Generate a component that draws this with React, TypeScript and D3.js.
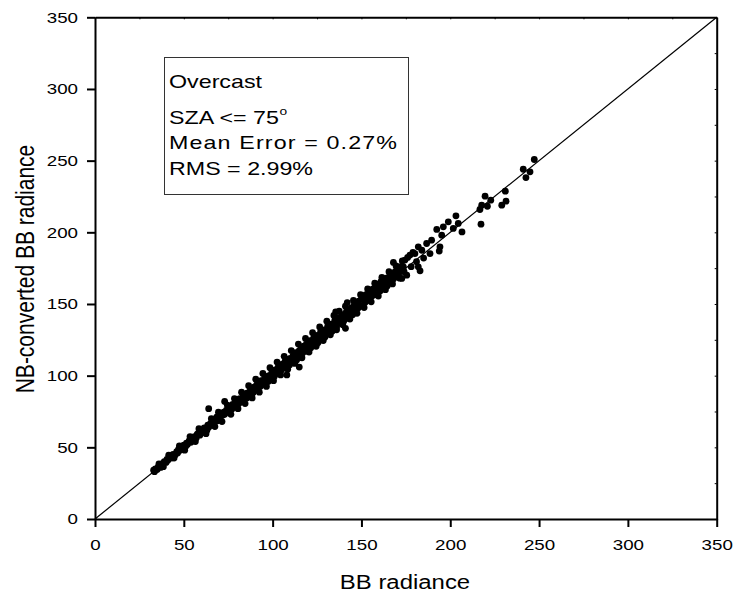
import React, { useRef, useEffect } from 'react';
import * as d3 from 'd3';

// BB radiance (x) vs NB-converted BB radiance (y)
const bbRadiance = [
  33, 33.5, 34, 35, 35.5, 36, 37, 37.5, 38, 39, 40, 40.5, 41, 42, 43, 43.5, 44, 45, 46, 46.5,
  47, 48, 48.5, 49, 50, 51, 51.5, 52, 53, 54, 54.5, 55, 56, 57, 57.5, 58, 59, 59.5, 60, 61,
  61.5, 62, 63, 63.5, 64, 64, 65, 66, 66.5, 67, 68, 68.5, 69, 70, 70.5, 71, 72, 72.5, 73, 73,
  74, 75, 75.5, 76, 77, 77.5, 78, 79, 79.5, 80, 81, 81.5, 82, 83, 83.5, 84, 85, 85.5, 86, 87,
  87.5, 88, 89, 89.5, 90, 91, 91.5, 92, 93, 93.5, 94, 95, 95.5, 96, 97, 97.5, 98, 99, 99.5, 100,
  101, 101.5, 102, 103, 103.5, 104, 105, 105.5, 106, 107, 107.5, 108, 108, 109, 109.5, 110, 111, 111.5, 112, 113,
  113.5, 114, 115, 115, 115.5, 116, 117, 117.5, 118, 119, 119.5, 120, 121, 121.5, 122, 123, 123.5, 124, 125, 125.5,
  126, 127, 127.5, 128, 129, 129.5, 130, 131, 131.5, 132, 133, 133.5, 134, 135, 135.5, 136, 136.5, 137, 138, 138.5,
  139, 140, 140.5, 141, 141.5, 142, 142.5, 143, 144, 144.5, 145, 146, 146.5, 147, 148, 148.5, 149, 150, 150.5, 151,
  152, 152.5, 153, 154, 154.5, 155, 156, 156.5, 157, 158, 158.5, 159, 160, 160.5, 161, 162, 162.5, 163, 164, 164.5,
  165, 166, 166.5, 167, 168, 168, 169, 170, 170.5, 171, 172, 172.7,
  36, 38.5, 41.5, 44.5, 47.5, 50.5, 53.5, 56.5, 58.5, 62.5, 65.5, 67.5, 69.5, 71.5, 74.5, 76.5, 78.5, 80.5, 82.5, 84.5,
  86.5, 88.5, 90.5, 92.5, 94.5, 96.5, 98.5, 100.5, 102.5, 104.5, 106.5, 108.5, 110.5, 112.5, 114.5, 116.5, 118.5, 120.5, 122.5, 124.5,
  126.5, 128.5, 130.5, 132.5, 134.5, 136, 137.5, 139.5, 141, 143.5, 145.5, 147.5, 149.5, 151.5, 153.5, 155.5, 157.5, 159.5, 161.5, 163.5,
  165.5, 167.5, 169.5, 171.5, 173, 174, 176, 178, 179, 181, 184, 185,
  173.6, 174.5, 175.5, 177.3, 180.1, 182, 182, 183, 186.7, 188.6, 189.5, 192.4, 193.8, 194.2, 195.2, 196.1, 198.9, 201.7, 203.2, 204.5,
  206.6, 216.7, 217.3, 217.7, 219.6, 220.9, 222.8, 229, 231, 231.4, 241.1, 242.6, 244.9, 247.3,
];

const nbConverted = [
  34, 33, 35, 34.5, 36, 37, 36, 38.5, 38, 40, 39.5, 41.5, 41, 43, 42.5, 44.5, 45, 44.5, 47, 46,
  48.5, 48, 50, 49, 51.5, 50.5, 53, 52, 54.5, 53.5, 56, 55.5, 57.5, 56.5, 59, 59.5, 58.5, 61.5, 61, 60.5,
  63.5, 63, 62, 65.5, 64, 77, 66.5, 65.5, 68.5, 67, 69.5, 71, 68.5, 71.5, 70, 73, 72.5, 74.5, 73, 82,
  76, 74.5, 77.5, 78, 76.5, 80, 79, 81.5, 78.5, 82, 80.5, 84, 83, 82, 86, 85, 87.5, 84.5, 88, 86.5,
  90, 89.5, 88, 92, 91, 93.5, 90, 94, 92.5, 96.5, 95, 94, 98, 97.5, 99.5, 96, 100, 98.5, 102, 101,
  99.5, 104, 103, 105.5, 101.5, 106, 104, 108, 107.5, 110, 105.5, 100.5, 108.5, 111.5, 107.5, 112, 109.5, 114, 113, 116,
  111, 115, 106, 117.5, 113, 118.5, 116, 120.5, 119, 122, 117, 121.5, 124.5, 119.5, 123, 126, 121.5, 125.5, 128, 123,
  127, 130.5, 125, 129, 132, 127, 131.5, 134.5, 129.5, 133, 136, 131, 135.5, 138.5, 144.5, 134, 137.5, 140.5, 136.5, 139.5,
  142.5, 138, 141.5, 133, 144.5, 151, 140, 146, 143.5, 147.5, 142.5, 149.5, 145, 151, 147, 152, 149, 153.5, 148.5, 155,
  151, 156.5, 153.5, 157.5, 152.5, 159, 155.5, 160.5, 157, 162, 156.5, 161, 164, 159, 165.5, 161, 166, 163.5, 168, 162.5,
  167, 170, 165, 171, 179, 167.5, 172.5, 169, 174, 171.5, 176, 167.8,
  38.5, 36.5, 44.5, 42.5, 51, 48, 57.5, 54, 63, 59.5, 70, 64.5, 74.5, 68, 79.5, 73, 84, 77, 88.5, 80.5,
  93, 84.5, 97.5, 88.5, 101.5, 92.5, 105.5, 96.5, 109.5, 100.5, 113.5, 104.5, 117.5, 108.5, 122, 112.5, 126, 116.5, 130, 120.5,
  134, 124.5, 138, 128.5, 142, 132, 145, 135.5, 148.5, 139.5, 152.5, 143.5, 156.5, 147.5, 160.5, 151.5, 164.5, 155.5, 168.5, 160,
  172.5, 164, 176.5, 168, 180, 172.5, 182.5, 176, 186, 179.5, 187.5, 182,
  175.9, 180.6, 170.1, 184.1, 185.2, 189.9, 175.9, 173.1, 192.2, 185.2, 194.5, 202, 186.9, 189.9, 198, 203.8, 207.3, 202.7, 211.5, 206.2,
  200.3, 215.9, 205.7, 218.9, 225.2, 218.2, 222.4, 218.9, 228.7, 221.7, 244, 238.2, 242.2, 250.8,
];

const majorTicks = [0, 50, 100, 150, 200, 250, 300, 350];
const minorTicks = [25, 75, 125, 175, 225, 275, 325];
const allTicks = [0, 25, 50, 75, 100, 125, 150, 175, 200, 225, 250, 275, 300, 325, 350];

const infoLines = ['Overcast', 'SZA <= 75', 'Mean Error = 0.27%', 'RMS = 2.99%'];

const W = 735;
const H = 598;
const FONT = '"Liberation Sans", Arial, Helvetica, sans-serif';
const SX = 1.25; // the picture's text is wider than it is tall

const App = () => {
  const ref = useRef(null);

  useEffect(() => {
    const svg = d3.select(ref.current);
    svg.selectAll('*').remove();

    const x = d3.scaleLinear().domain([0, 350]).range([95, 716.7]);
    const y = d3.scaleLinear().domain([0, 350]).range([519, 17.3]);

    const points = bbRadiance.map((v, i) => ({ bb: v, nb: nbConverted[i] }));

    // top / right frame with small inward ticks
    svg.append('g')
      .attr('transform', `translate(0,${y(350)})`)
      .call(d3.axisTop(x).tickValues(allTicks).tickSize(-2).tickSizeOuter(0).tickFormat(() => ''))
      .call(g => g.select('.domain').attr('stroke-width', 2));
    svg.append('g')
      .attr('transform', `translate(${x(350)},0)`)
      .call(d3.axisRight(y).tickValues(allTicks).tickSize(-2).tickSizeOuter(0).tickFormat(() => ''))
      .call(g => g.select('.domain').attr('stroke-width', 2));

    // diagonal 1:1 line
    svg.append('line')
      .attr('x1', x(0)).attr('y1', y(0))
      .attr('x2', x(350)).attr('y2', y(350))
      .attr('stroke', '#000')
      .attr('stroke-width', 1.2);

    svg.append('g')
      .selectAll('circle')
      .data(points)
      .join('circle')
      .attr('cx', d => x(d.bb))
      .attr('cy', d => y(d.nb))
      .attr('r', 3.4)
      .attr('fill', '#000');

    // bottom axis
    const gx = svg.append('g').attr('transform', `translate(0,${y(0)})`);
    gx.call(d3.axisBottom(x).tickValues(minorTicks).tickSize(5).tickSizeOuter(0).tickFormat(() => ''));
    gx.call(d3.axisBottom(x).tickValues(majorTicks).tickSize(8).tickSizeOuter(0).tickPadding(12).tickFormat(d3.format('d')));
    gx.selectAll('.domain').attr('stroke-width', 2);
    gx.selectAll('line').attr('stroke-width', 2);
    gx.selectAll('text')
      .attr('font-family', FONT)
      .attr('font-size', 15)
      .attr('fill', '#000')
      .attr('transform', `scale(${SX},1)`);

    // left axis
    const gy = svg.append('g').attr('transform', `translate(${x(0)},0)`);
    gy.call(d3.axisLeft(y).tickValues(minorTicks).tickSize(5).tickSizeOuter(0).tickFormat(() => ''));
    gy.call(d3.axisLeft(y).tickValues(majorTicks).tickSize(8).tickSizeOuter(0).tickFormat(d3.format('d')));
    gy.selectAll('.domain').attr('stroke-width', 2);
    gy.selectAll('line').attr('stroke-width', 2);
    gy.selectAll('text')
      .attr('font-family', FONT)
      .attr('font-size', 15)
      .attr('fill', '#000')
      .attr('x', -17 / SX)
      .attr('transform', `scale(${SX},1)`);

    // axis titles
    svg.append('text')
      .attr('transform', `translate(405,589) scale(1.14,1)`)
      .attr('text-anchor', 'middle')
      .attr('font-family', FONT)
      .attr('font-size', 21)
      .text('BB radiance');
    svg.append('text')
      .attr('transform', `translate(34,269) scale(${SX},1) rotate(-90)`)
      .attr('text-anchor', 'middle')
      .attr('font-family', FONT)
      .attr('font-size', 21)
      .text('NB-converted BB radiance');

    // info box
    svg.append('rect')
      .attr('x', 164.5).attr('y', 57.5)
      .attr('width', 244).attr('height', 137)
      .attr('fill', 'none')
      .attr('stroke', '#333')
      .attr('stroke-width', 1);

    const baselines = [88.3, 124, 149.3, 175];
    infoLines.forEach((line, i) => {
      const t = svg.append('text')
        .attr('transform', `translate(169,${baselines[i]}) scale(${SX},1)`)
        .attr('font-family', FONT)
        .attr('font-size', 18.6);
      const main = t.append('tspan').text(line);
      if (i === 2) {
        // the picture spreads this line out to nearly the box edge
        main.attr('textLength', 228 / SX).attr('lengthAdjust', 'spacing');
      }
      if (i === 1) {
        t.append('tspan').attr('font-size', 11).attr('dx', 0.5).attr('dy', -9).text('o');
      }
    });
  }, []);

  return (
    <svg
      ref={ref}
      width={W}
      height={H}
      style={{ position: 'absolute', left: 0, top: 0, background: '#fff' }}
    />
  );
};

export default App;
